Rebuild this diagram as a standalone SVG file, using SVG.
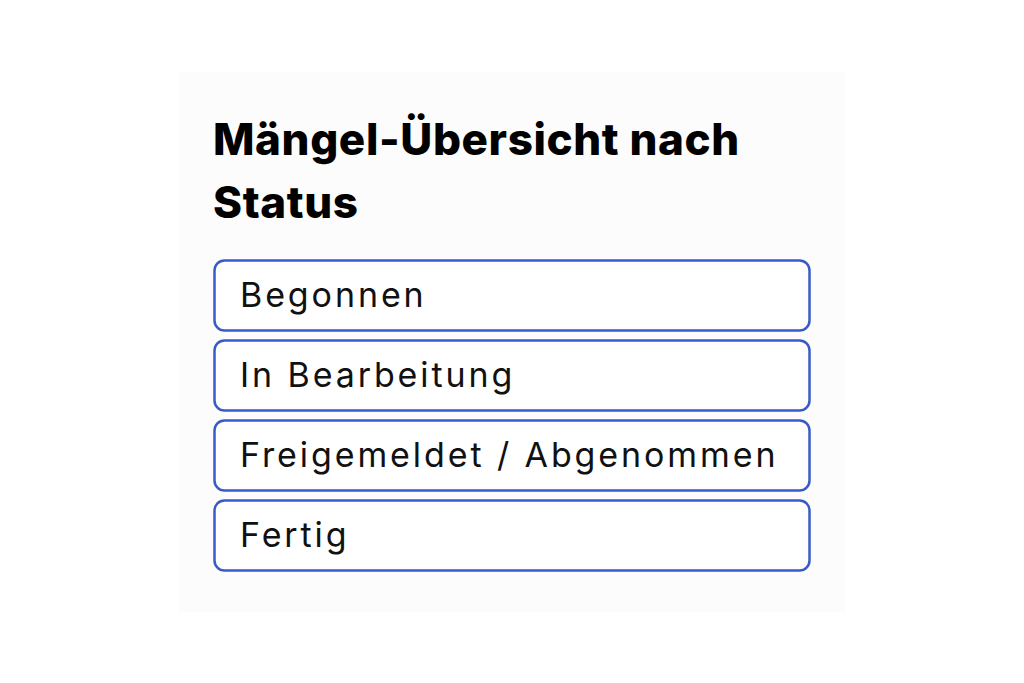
<svg xmlns="http://www.w3.org/2000/svg" width="1024" height="683" viewBox="0 0 1024 683">
<style>
.title{font-family:Inter,"Noto Sans",sans-serif;font-weight:800;font-size:44px;fill:#000;letter-spacing:0.6px}
.box{fill:#fff;stroke:#3a5bc7;stroke-width:2.5}
.lbl{font-family:Inter,"Noto Sans",sans-serif;font-size:34px;fill:#111;letter-spacing:2.9px}
</style>
<rect width="1024" height="683" fill="#fff"/>
<rect x="178" y="72" width="668" height="540" fill="#fcfcfc"/>
<g id="title">
<text class="title" x="213" y="155">Mängel-Übersicht nach</text>
<text class="title" x="213" y="218">Status</text>
</g>
<g id="n1"><rect class="box" x="214.5" y="260.5" width="595" height="70" rx="10"/><text class="lbl" x="240" y="307">Begonnen</text></g>
<g id="n2"><rect class="box" x="214.5" y="340.5" width="595" height="70" rx="10"/><text class="lbl" x="240" y="387">In Bearbeitung</text></g>
<g id="n3"><rect class="box" x="214.5" y="420.5" width="595" height="70" rx="10"/><text class="lbl" x="240" y="467">Freigemeldet / Abgenommen</text></g>
<g id="n4"><rect class="box" x="214.5" y="500.5" width="595" height="70" rx="10"/><text class="lbl" x="240" y="547">Fertig</text></g>
<g id="connectors"/>
</svg>
